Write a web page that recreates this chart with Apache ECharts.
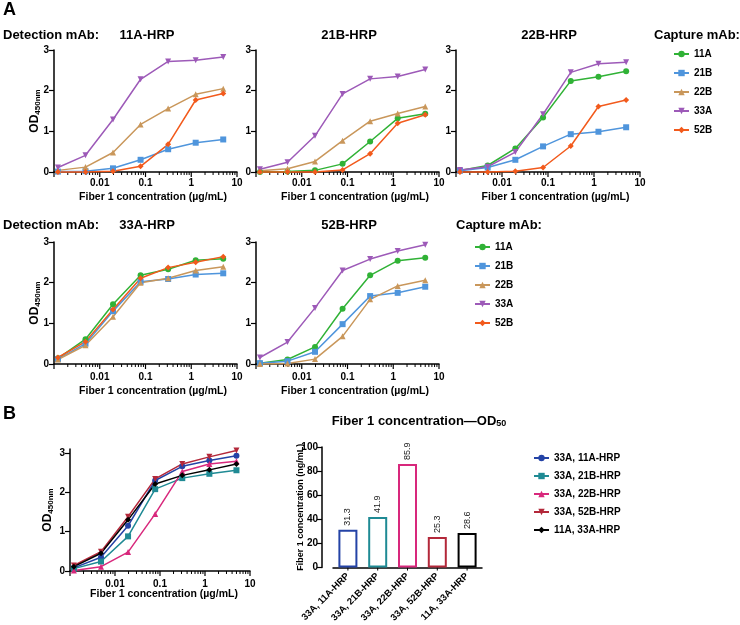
<!DOCTYPE html>
<html>
<head>
<meta charset="utf-8">
<script src="https://cdn.jsdelivr.net/npm/echarts@6/dist/echarts.min.js"></script>
<style>
html, body { margin: 0; background: #fff; }
#chart { width: 740px; height: 625px; }
</style>
</head>
<body>
<div id="chart"></div>
<script>
// fiber 1 concentration, µg/mL (4-fold dilutions from 5)
var conc = [0.00122, 0.00488, 0.0195, 0.0781, 0.3125, 1.25, 5]
var captureNames = ['11A', '21B', '22B', '33A', '52B']
var detectionNames = ['11A-HRP', '21B-HRP', '22B-HRP', '33A-HRP', '52B-HRP']

// OD450 per capture mAb (same order as captureNames), null = homologous pair not shown
var det11A = [
    null,
    [0.01, 0.02, 0.09, 0.30, 0.56, 0.72, 0.80],
    [0.04, 0.12, 0.48, 1.17, 1.56, 1.91, 2.05],
    [0.11, 0.41, 1.29, 2.28, 2.72, 2.75, 2.83],
    [0.00, 0.00, 0.02, 0.14, 0.68, 1.77, 1.93]
]
var det21B = [
    [0.00, 0.01, 0.04, 0.20, 0.75, 1.32, 1.43],
    null,
    [0.03, 0.08, 0.26, 0.77, 1.25, 1.44, 1.61],
    [0.07, 0.24, 0.89, 1.92, 2.29, 2.35, 2.52],
    [0.00, 0.00, 0.00, 0.05, 0.45, 1.20, 1.41]
]
var det22B = [
    [0.04, 0.16, 0.58, 1.34, 2.24, 2.34, 2.48],
    [0.03, 0.11, 0.30, 0.63, 0.93, 0.99, 1.10],
    null,
    [0.05, 0.13, 0.49, 1.42, 2.45, 2.66, 2.70],
    [0.00, 0.00, 0.02, 0.11, 0.64, 1.61, 1.77]
]
var det33A = [
    [0.14, 0.61, 1.47, 2.18, 2.33, 2.55, 2.59],
    [0.12, 0.50, 1.30, 2.02, 2.09, 2.20, 2.23],
    [0.11, 0.46, 1.16, 2.00, 2.11, 2.30, 2.39],
    null,
    [0.16, 0.55, 1.34, 2.11, 2.37, 2.50, 2.64]
]
var det52B = [
    [0.02, 0.11, 0.42, 1.36, 2.18, 2.54, 2.61],
    [0.02, 0.07, 0.30, 0.98, 1.67, 1.75, 1.90],
    [0.00, 0.01, 0.12, 0.68, 1.59, 1.92, 2.06],
    [0.16, 0.54, 1.38, 2.30, 2.58, 2.78, 2.93],
    null
]

// panel B
var pairNames = ['33A, 11A-HRP', '33A, 21B-HRP', '33A, 22B-HRP', '33A, 52B-HRP', '11A, 33A-HRP']
var pair33A11A = [0.08, 0.35, 1.15, 2.30, 2.66, 2.81, 2.93]
var pair33A21B = [0.06, 0.24, 0.88, 2.08, 2.36, 2.47, 2.56]
var pair33A22B = [0.01, 0.11, 0.48, 1.45, 2.53, 2.72, 2.79]
var pair33A52B = [0.14, 0.49, 1.38, 2.34, 2.72, 2.90, 3.06]
var pair11A33A = [0.11, 0.45, 1.30, 2.21, 2.43, 2.57, 2.72]
var od50 = [31.3, 41.9, 85.9, 25.3, 28.6]   // ng/mL

var captureColors = ['#30b236', '#4f95dc', '#c9975b', '#9d5ab8', '#f25a1c']
var captureSymbols = ['circle', 'rect', 'triangle', 'triangle', 'diamond']
var captureRotate = [0, 0, 0, 180, 0]
var pairColors = ['#2443a6', '#1f8a94', '#d8287c', '#b3283a', '#000000']
var pairSymbols = ['circle', 'rect', 'triangle', 'triangle', 'diamond']
var pairRotate = [0, 0, 0, 180, 0]

var FONT = '"Liberation Sans", Arial, sans-serif'

var grids = [
    {left: 54, top: 50, width: 183, height: 122},
    {left: 256, top: 50, width: 183, height: 122},
    {left: 456, top: 50, width: 184, height: 122},
    {left: 54, top: 242, width: 183, height: 122},
    {left: 256, top: 242, width: 183, height: 122},
    {left: 70, top: 449, width: 180, height: 122},
    {left: 333, top: 447, width: 149, height: 124}
]

// log axis ticks: [value, isMajor] for 1..9 x 10^n, 0.001 to 10
var logTicks = []
for (var d = -3; d < 1; d++) {
    for (var m = 1; m < 10; m++) logTicks.push([+(m * Math.pow(10, d)).toPrecision(2), m == 1 ? 1 : 0])
}
logTicks.push([10, 1])

var odName = '{od|OD}{sub|450nm}'
var odRich = {
    od: {fontSize: 12, fontWeight: 'bold', fontFamily: FONT, color: '#000', lineHeight: 14},
    sub: {fontSize: 8, fontWeight: 'bold', fontFamily: FONT, color: '#000', verticalAlign: 'bottom', padding: [5, 0, 0, 0]}
}

function logAxis(gi, margin, gap, shift) {
    return {
        type: 'log', gridIndex: gi, logBase: 10, min: 0.001, max: 10,
        axisLine: {show: true, onZero: false, lineStyle: {color: '#000', width: 1.5}},
        axisTick: {show: false},
        axisLabel: {
            color: '#000', fontWeight: 'bold', fontSize: 10, fontFamily: FONT, margin: margin,
            formatter: function (v) { return v < 0.005 ? '' : String(+v.toPrecision(3)) }
        },
        splitLine: {show: false},
        name: 'Fiber 1 concentration (µg/mL)', nameLocation: 'middle', nameGap: gap, nameMoveOverlap: false,
        nameTextStyle: {color: '#000', fontWeight: 'bold', fontSize: 10.5, fontFamily: FONT, padding: [0, 0, 0, shift]}
    }
}

// short downward ticks drawn at the foot of an x axis; data is [x, isMajor]
function tickSeries(gi, data) {
    return {
        type: 'custom', xAxisIndex: gi, yAxisIndex: gi, silent: true, clip: false, z: 1,
        data: data,
        renderItem: function (params, api) {
            var p = api.coord([api.value(0), 0])
            var major = api.value(1) == 1
            return {
                type: 'line',
                shape: {x1: p[0], y1: p[1], x2: p[0], y2: p[1] + (major ? 5 : 3)},
                style: {stroke: '#000', lineWidth: major ? 1.2 : 1}
            }
        }
    }
}

function odAxis(gi, max, withName, gap) {
    return {
        type: 'value', gridIndex: gi, min: 0, max: max, interval: 1,
        axisLine: {show: true, onZero: false, lineStyle: {color: '#000', width: 1.5}},
        axisTick: {show: true, length: 5, lineStyle: {color: '#000', width: 1.2}, customValues: [0, 1, 2, 3]},
        axisLabel: {color: '#000', fontWeight: 'bold', fontSize: 10, fontFamily: FONT, margin: 5, customValues: [0, 1, 2, 3]},
        splitLine: {show: false},
        name: withName ? odName : '', nameLocation: 'middle', nameGap: gap, nameMoveOverlap: false,
        nameTextStyle: {rich: odRich}
    }
}

var xAxes = [], yAxes = [], series = []
var panelData = [det11A, det21B, det22B, det33A, det52B]
for (var i = 0; i < 5; i++) {
    xAxes.push(i < 3 ? logAxis(i, 6, 20, 15) : logAxis(i, 8, 22, 15))
    yAxes.push(odAxis(i, 3, i == 0 || i == 3, 12))
    series.push(tickSeries(i, logTicks))
    for (var j = 0; j < captureNames.length; j++) {
        var vals = panelData[i][j]
        if (!vals) continue
        series.push({
            name: captureNames[j], type: 'line', xAxisIndex: i, yAxisIndex: i,
            data: conc.map(function (c, k) { return [c, vals[k]] }),
            color: captureColors[j], symbol: captureSymbols[j], symbolRotate: captureRotate[j],
            symbolSize: 6, lineStyle: {width: 1.5}, clip: false
        })
    }
}

// panel B line chart
var pairData = [pair33A11A, pair33A21B, pair33A22B, pair33A52B, pair11A33A]
xAxes.push(logAxis(5, 8, 18, 8))
yAxes.push(odAxis(5, 3.1, true, 15))
series.push(tickSeries(5, logTicks))
pairData.forEach(function (vals, j) {
    series.push({
        name: pairNames[j], type: 'line', xAxisIndex: 5, yAxisIndex: 5,
        data: conc.map(function (c, k) { return [c, vals[k]] }),
        color: pairColors[j], symbol: pairSymbols[j], symbolRotate: pairRotate[j],
        symbolSize: 6, lineStyle: {width: 1.5}, clip: false
    })
})

// panel B bar chart
xAxes.push({
    type: 'category', gridIndex: 6, data: pairNames,
    axisLine: {show: true, onZero: false, lineStyle: {color: '#000', width: 1.5}},
    axisTick: {show: false},
    axisLabel: {color: '#000', fontWeight: 'bold', fontSize: 9.5, fontFamily: FONT, rotate: 45, margin: 7, interval: 0}
})
yAxes.push({
    type: 'value', gridIndex: 6, min: 0, max: 100, interval: 20, offset: 11,
    axisLine: {show: true, lineStyle: {color: '#000', width: 1.5}},
    axisTick: {show: true, length: 5, lineStyle: {color: '#000', width: 1.2}},
    axisLabel: {color: '#000', fontWeight: 'bold', fontSize: 10, fontFamily: FONT, margin: 4},
    splitLine: {show: false},
    name: 'Fiber 1 concentration (ng/mL)', nameLocation: 'middle', nameGap: 17, nameMoveOverlap: false,
    nameTextStyle: {color: '#000', fontWeight: 'bold', fontSize: 9, fontFamily: FONT}
})
series.push(tickSeries(6, pairNames.map(function (n) { return [n, 0] })))
series.push({
    type: 'bar', xAxisIndex: 6, yAxisIndex: 6, barWidth: 19,
    data: od50.map(function (v, k) {
        return {value: v, itemStyle: {color: '#fff', borderColor: pairColors[k], borderWidth: 2}}
    }),
    label: {
        show: true, position: 'top', rotate: 90, align: 'left', verticalAlign: 'middle', distance: 4,
        fontSize: 9, color: '#222', fontFamily: FONT
    }
})

function txt(text, x, y, size, align, extra) {
    var style = {text: text, x: x, y: y, fill: '#000', font: 'bold ' + size + 'px ' + FONT,
        textAlign: align || 'left', textVerticalAlign: 'middle'}
    if (extra) Object.assign(style, extra)
    return {type: 'text', style: style}
}

var legendText = {color: '#000', fontWeight: 'bold', fontSize: 10, fontFamily: FONT}

var option = {
    backgroundColor: '#fff',
    animation: false,
    grid: grids,
    xAxis: xAxes,
    yAxis: yAxes,
    series: series,
    legend: [
        {data: captureNames, orient: 'vertical', left: 668, top: 44, itemWidth: 15, itemHeight: 8, itemGap: 9, textStyle: legendText},
        {data: captureNames, orient: 'vertical', left: 469, top: 237, itemWidth: 15, itemHeight: 8, itemGap: 9, textStyle: legendText},
        {data: pairNames, orient: 'vertical', left: 528, top: 448, itemWidth: 15, itemHeight: 8, itemGap: 8, textStyle: legendText}
    ],
    graphic: [
        txt('A', 3, 10, 18),
        txt('B', 3, 414, 18),
        txt('Detection mAb:', 3, 35, 13),
        txt(detectionNames[0], 147, 35, 13, 'center'),
        txt(detectionNames[1], 349, 35, 13, 'center'),
        txt(detectionNames[2], 549, 35, 13, 'center'),
        txt('Capture mAb:', 654, 35, 13),
        txt('Detection mAb:', 3, 225, 13),
        txt(detectionNames[3], 147, 225, 13, 'center'),
        txt(detectionNames[4], 349, 225, 13, 'center'),
        txt('Capture mAb:', 456, 225, 13),
        txt('Fiber 1 concentration\u2014OD{s|50}', 419, 421, 13, 'center', {
            rich: {s: {font: 'bold 9px ' + FONT, fill: '#000', verticalAlign: 'bottom', padding: [6, 0, 0, 0]}}
        })
    ]
}

var myChart = echarts.init(document.getElementById('chart'), null, {renderer: 'canvas'})
myChart.setOption(option)
</script>
</body>
</html>
